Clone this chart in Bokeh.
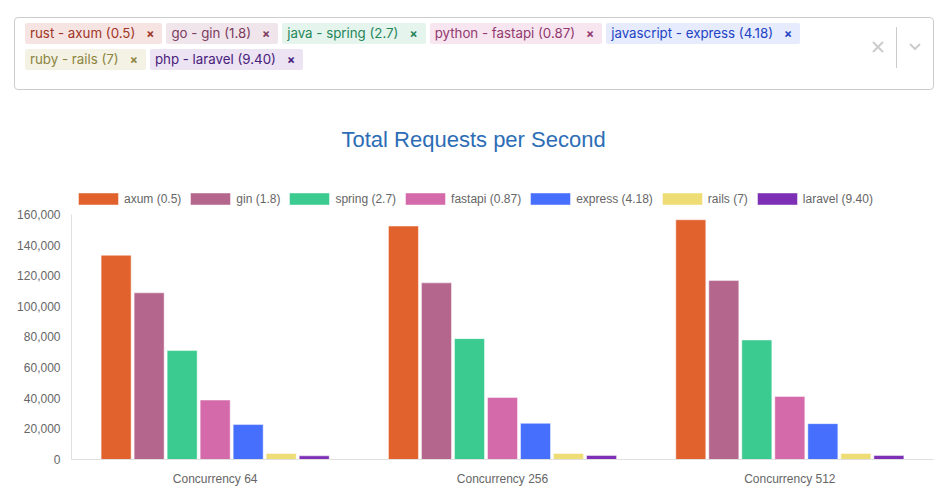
from bokeh.plotting import figure
from bokeh.models import (Div, FactorRange, Range1d, Legend, LegendItem,
                          NumeralTickFormatter, FixedTicker, ColumnDataSource)
from bokeh.transform import dodge
from bokeh.layouts import column
from bokeh.embed import file_html
from bokeh.resources import INLINE

# ---------------- data ----------------
groups = ["Concurrency 64", "Concurrency 256", "Concurrency 512"]
languages = ["rust", "go", "java", "python", "javascript", "ruby", "php"]
frameworks = ["axum", "gin", "spring", "fastapi", "express", "rails", "laravel"]
latencies = ["0.5", "1.8", "2.7", "0.87", "4.18", "7", "9.40"]

axum = [133300, 152400, 156500]
gin = [108800, 115300, 116800]
spring = [71100, 78900, 78000]
fastapi = [38800, 40500, 41200]
express = [22800, 23600, 23400]
rails = [3900, 3900, 3900]
laravel = [2400, 2600, 2600]
series_values = [axum, gin, spring, fastapi, express, rails, laravel]

y_ticks = [0, 20000, 40000, 60000, 80000, 100000, 120000, 140000, 160000]
y_max = 160000

# ---------------- styles ----------------
bar_colors = ["#e2622e", "#b5668c", "#3bcb90", "#d46aa9", "#476ffd", "#eedc75", "#7d30b5"]
tag_bg = ["#f6e4e2", "#f1e5ec", "#e5f5ee", "#f7e6ef", "#e6ebfd", "#f3f2e4", "#ece3f3"]
tag_fg = ["#a03426", "#7b3c5e", "#25865a", "#923a70", "#2243c4", "#8c8440", "#48207a"]
label_color = "#666666"
chart_font = "Liberation Sans"

# ---------------- multi-select box (HTML) ----------------
tags_html = ""
for lang, fw, lat, bg, fg in zip(languages, frameworks, latencies, tag_bg, tag_fg):
    tags_html += (
        f'<div style="display:flex;align-items:center;height:21px;background:{bg};'
        f'color:{fg};border-radius:2px;">'
        f'<span style="padding-left:5px;font-size:13.3px;white-space:nowrap;">{lang} - {fw} ({lat})</span>'
        f'<span style="padding:0 8px 0 11px;font-size:12px;font-weight:700;">×</span></div>'
    )

html = (
    '<div style="position:relative;box-sizing:border-box;margin:17px 0 0 14px;width:920px;'
    'height:73px;border:1px solid #cccccc;border-radius:4px;font-family:Inter, sans-serif;">'
    '<div style="position:absolute;left:10px;top:5px;width:840px;display:flex;flex-wrap:wrap;'
    f'column-gap:4px;row-gap:5px;">{tags_html}</div>'
    '<svg style="position:absolute;left:853px;top:19px" width="20" height="20">'
    '<path d="M5 5 L15 15 M15 5 L5 15" stroke="#cccccc" stroke-width="2" fill="none"/></svg>'
    '<div style="position:absolute;left:881px;top:9px;width:1px;height:41px;background:#cccccc;"></div>'
    '<svg style="position:absolute;left:890px;top:18px" width="20" height="20">'
    '<path d="M5 8 L10 13 L15 8" stroke="#cccccc" stroke-width="2" fill="none"/></svg>'
    '</div>'
)
div = Div(text=html, width=944, height=90, margin=0)

# ---------------- chart ----------------
# frame spans from just above the legend down to the baseline; the value axis
# itself is bounded to 0..160,000 (246 px of the 274 px frame)
frame_px, axis_px = 274, 246
p = figure(width=944, height=413,
           x_range=FactorRange(factors=groups, range_padding=0),
           y_range=Range1d(0, y_max * frame_px / axis_px),
           output_backend="svg", toolbar_location=None,
           min_border_left=71, min_border_right=11,
           min_border_top=95, min_border_bottom=44, margin=0)

p.title.text = "Total Requests per Second"
p.title.align = "left"
p.title.text_font = chart_font
p.title.text_font_size = "22px"
p.title.text_font_style = "normal"
p.title.text_color = "#2c6db6"
p.title.offset = 270
p.title.standoff = 69

n = len(frameworks)
pitch = 0.1149
bar_w = 0.1044
items = []
for i, (fw, lat, vals, col) in enumerate(zip(frameworks, latencies, series_values, bar_colors)):
    src = ColumnDataSource(dict(group=groups, value=vals))
    r = p.vbar(x=dodge("group", (i - (n - 1) / 2) * pitch, range=p.x_range),
               top="value", width=bar_w, source=src,
               fill_color=col, line_color="white", line_alpha=0.45, line_width=1)
    items.append(LegendItem(label=f"{fw} ({lat})", renderers=[r]))

legend = Legend(items=items, orientation="horizontal", location=(2, 253),
                glyph_width=50, glyph_height=15, label_height=15, label_standoff=1,
                spacing=4, padding=0, margin=0, border_line_alpha=0,
                background_fill_alpha=0,
                label_text_font=chart_font, label_text_font_size="12px",
                label_text_color=label_color)
p.add_layout(legend, "center")

p.xgrid.visible = False
p.ygrid.visible = False
p.outline_line_color = None

p.yaxis.ticker = FixedTicker(ticks=y_ticks)
p.yaxis.formatter = NumeralTickFormatter(format="0,0")
p.yaxis.bounds = (0, y_max)
for ax in (p.xaxis[0], p.yaxis[0]):
    ax.axis_line_color = "#e0e0e0"
    ax.major_tick_out = 0
    ax.major_tick_in = 0
    ax.minor_tick_out = 0
    ax.minor_tick_in = 0
    ax.major_label_text_font = chart_font
    ax.major_label_text_font_size = "12px"
    ax.major_label_text_color = label_color
p.yaxis.major_label_standoff = 11
p.xaxis.major_label_standoff = 12

layout = column(div, p, spacing=0)
open("out.html", "w").write(file_html(layout, INLINE))
